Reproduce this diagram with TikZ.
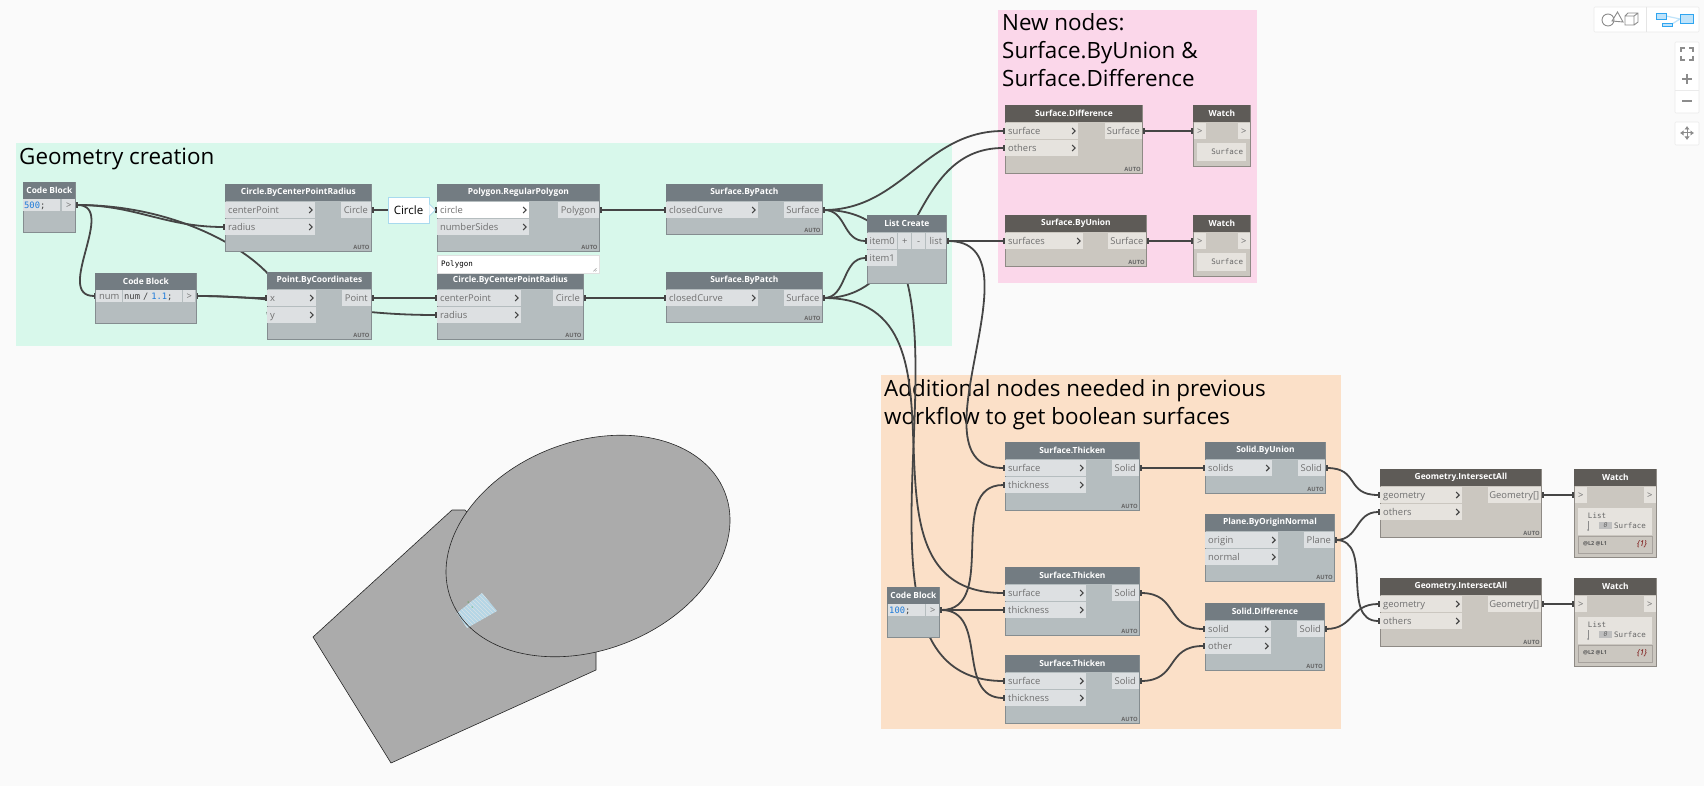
\documentclass[tikz,border=0pt]{standalone}
\usepackage{fontspec}
\setmainfont{Open Sans}
\setmonofont{DejaVu Sans Mono}
\usetikzlibrary{arrows.meta}
\pgfdeclarelayer{groups}
\pgfdeclarelayer{wires}
\pgfsetlayers{groups,wires,main}
\definecolor{pagefill}{HTML}{FAFAFA}
\definecolor{greenfill}{HTML}{D8F8EB}
\definecolor{pinkfill}{HTML}{FBD7EA}
\definecolor{orangefill}{HTML}{FBE0C8}
\definecolor{blockfill}{HTML}{B5BDBF}
\definecolor{blockline}{HTML}{858D90}
\definecolor{headfill}{HTML}{737C82}
\definecolor{portfill}{HTML}{DDE0E2}
\definecolor{tanfill}{HTML}{CBC7C0}
\definecolor{tanline}{HTML}{8E8A85}
\definecolor{tanhead}{HTML}{5E5B57}
\definecolor{tanport}{HTML}{E6E3DE}
\definecolor{wirecol}{HTML}{454545}
\definecolor{portink}{HTML}{707070}
\definecolor{numblue}{HTML}{1E7BD9}
\definecolor{noteline}{HTML}{A8DAEE}
\definecolor{shapefill}{HTML}{ABABAB}
\definecolor{patchfill}{HTML}{B5D6E6}
\definecolor{iconblue}{HTML}{2FA5F0}
\definecolor{iconpale}{HTML}{BFE3FA}
\definecolor{icongray}{HTML}{8C8C8C}
\begin{document}
\begin{tikzpicture}[
    x=1pt, y=-1pt,
    block/.style 2 args={draw=blockline, fill=blockfill, line width=0.8pt, minimum width=#1pt, minimum height=#2pt, anchor=north west, inner sep=0pt},
    tanblock/.style 2 args={block={#1}{#2}, draw=tanline, fill=tanfill},
    hdr/.style={fill=headfill, text=white, font=\fontsize{8.4}{10}\selectfont\bfseries, minimum width=#1pt, minimum height=17pt, anchor=north, inner sep=0pt},
    tanhdr/.style={hdr=#1, fill=tanhead},
    cell/.style={font=\fontsize{9.4}{11}\selectfont, text=portink, minimum height=16pt, inner ysep=0pt, text height=8pt, text depth=1pt},
    inport/.style={cell, fill=portfill, anchor=west, inner xsep=3pt, text width=#1pt, align=left, path picture={\draw[wirecol, line width=1.1pt] ([shift={(-6,-3)}]path picture bounding box.east) -- ++(3,3) -- ++(-3,3);}},
    taninport/.style={inport=#1, fill=tanport},
    outport/.style={cell, fill=portfill, anchor=east, inner xsep=0pt, minimum width=#1pt},
    tanoutport/.style={outport=#1, fill=tanport},
    btn/.style={cell, fill=portfill, anchor=west, inner xsep=0pt, minimum width=#1pt, minimum height=12pt, text height=7pt, text depth=0.5pt},
    codecell/.style={cell, fill=portfill, anchor=west, inner xsep=1pt, text width=#1pt, align=left, minimum height=12pt, text height=7pt, text depth=0.5pt, font=\fontsize{8.8}{11}\selectfont\ttfamily, text=black!75},
    autotag/.style={font=\fontsize{5.8}{6}\selectfont\bfseries, text=black!60, anchor=south east, inner sep=2pt},
    grouptitle/.style={font=\fontsize{22.4}{28.3}\selectfont, anchor=north west, inner sep=0pt, align=left},
    wire/.style={draw=wirecol, line width=1.8pt, {Rectangle[length=2.5pt,width=6pt]}-{Rectangle[length=2.5pt,width=6pt]}},
    monotext/.style={font=\fontsize{7.5}{9}\selectfont\ttfamily, text=black!60, inner sep=0pt},
    watchvalue/.style={monotext, fill=tanport, minimum height=18pt, inner xsep=3pt, text width=43pt, align=right},
    panel/.style={fill=white, draw=black!8, line width=0.6pt, rounded corners=1pt},
    icon/.style={draw=icongray, line width=0.9pt},
  ]
    \useasboundingbox (0,0) rectangle (1704,786);

    % groups
    \begin{pgfonlayer}{groups}
    \fill[pagefill] (0,0) rectangle (1704,786);
    \fill[greenfill]  (16,143) rectangle (952,346);
    \fill[pinkfill]   (998,10) rectangle (1257,283);
    \fill[orangefill] (881,375) rectangle (1341,729);
    \node[grouptitle] (titleA) at (19,148) {Geometry creation};
    \node[grouptitle] (titleB) at (1002,13) {New nodes:\\Surface.ByUnion \&\\Surface.Difference};
    \node[grouptitle] (titleC) at (884,379) {Additional nodes needed in previous\\workflow to get boolean surfaces};
    \end{pgfonlayer}

    % geometry preview
    \fill[shapefill, draw=black!85, line width=0.6pt] (313,637) -- (452,510) -- (465,510) -- (596,652) -- (596,670) -- (391,763) -- cycle;
    \fill[shapefill, rotate around={21.5:(588,546)}] (588,546) ellipse [x radius=147, y radius=104];
    \begin{scope}
      \clip (457,613) -- (482,593) -- (497,611) -- (467,628) -- cycle;
      \fill[patchfill] (450,590) rectangle (500,630);
      \foreach \i in {-40,-36,...,44} \draw[white!70!patchfill!85!gray, line width=0.5pt] (450+\i,590) -- (490+\i,630);
    \end{scope}
    \fill[green!60!black] (468,602) circle (0.5) (472,607) circle (0.5);
    \draw[black!85, line width=0.6pt, rotate around={21.5:(588,546)}] (588,546) ellipse [x radius=147, y radius=104];

    % first row
    \node[block={52}{50}] (code1) at (23,182) {};
    \node[hdr=52] (code1h) at (code1.north) {Code Block};
    \node[codecell=35] (code1v) at (23,205) {\textcolor{numblue}{500};};
    \node[btn=13] (code1o) at (62,205) {>};

    \node[block={146}{67}] (circA) at (225,184) {};
    \node[hdr=146] (circAh) at (circA.north) {Circle.ByCenterPointRadius};
    \node[inport=84] (circAc) at (225,210) {centerPoint};
    \node[inport=84] (circAr) at (225,227) {radius};
    \node[outport=30] (circAo) at (371,210) {Circle};
    \node[autotag] (circAt) at (circA.south east) {AUTO};

    \node[block={162}{67}] (polyA) at (437,184) {};
    \node[hdr=162] (polyAh) at (polyA.north) {Polygon.RegularPolygon};
    \node[inport=86, fill=white] (polyAc) at (437,210) {circle};
    \node[inport=86] (polyAn) at (437,227) {numberSides};
    \node[outport=41] (polyAo) at (599,210) {Polygon};
    \node[autotag] (polyAt) at (polyA.south east) {AUTO};

    \node[block={156}{50}] (patchA) at (666,184) {};
    \node[hdr=156] (patchAh) at (patchA.north) {Surface.ByPatch};
    \node[inport=86] (patchAc) at (666,210) {closedCurve};
    \node[outport=38] (patchAo) at (822,210) {Surface};
    \node[autotag] (patchAt) at (patchA.south east) {AUTO};

    \node[block={79}{68}] (listA) at (867,215) {};
    \node[hdr=79] (listAh) at (listA.north) {List Create};
    \node[btn=30, minimum height=16pt] (listAa) at (867,241) {item0};
    \node[btn=30, minimum height=16pt] (listAb) at (867,258) {item1};
    \node[btn=13, minimum height=16pt] (listAp) at (898,241) {+};
    \node[btn=13, minimum height=16pt] (listAm) at (912,241) {-};
    \node[outport=20] (listAo) at (946,241) {list};

    % second row
    \node[block={101}{50}] (code2) at (95,273) {};
    \node[hdr=101] (code2h) at (code2.north) {Code Block};
    \node[btn=26] (code2n) at (96,296) {num};
    \node[codecell=57] (code2v) at (123,296) {num / \textcolor{numblue}{1.1};};
    \node[btn=12] (code2o) at (183,296) {>};

    \node[block={104}{67}] (pointA) at (267,272) {};
    \node[hdr=104] (pointAh) at (pointA.north) {Point.ByCoordinates};
    \node[inport=43] (pointAx) at (267,298) {x};
    \node[inport=43] (pointAy) at (267,315) {y};
    \node[outport=29] (pointAo) at (371,298) {Point};
    \node[autotag] (pointAt) at (pointA.south east) {AUTO};

    \node[block={146}{67}] (circB) at (437,272) {};
    \node[hdr=146] (circBh) at (circB.north) {Circle.ByCenterPointRadius};
    \node[inport=78] (circBc) at (437,298) {centerPoint};
    \node[inport=78] (circBr) at (437,315) {radius};
    \node[outport=30] (circBo) at (583,298) {Circle};
    \node[autotag] (circBt) at (circB.south east) {AUTO};

    \node[block={156}{50}] (patchB) at (666,272) {};
    \node[hdr=156] (patchBh) at (patchB.north) {Surface.ByPatch};
    \node[inport=86] (patchBc) at (666,298) {closedCurve};
    \node[outport=38] (patchBo) at (822,298) {Surface};
    \node[autotag] (patchBt) at (patchB.south east) {AUTO};

    % notes on the first nodes
    \node[draw=noteline, fill=white, line width=0.8pt, minimum width=41pt, minimum height=26pt, inner sep=0pt, font=\fontsize{11.5}{13}\selectfont] (note) at (408.5,210) {Circle};
    \draw[noteline, fill=white, line width=0.8pt] ([yshift=6pt]note.east) -- ++(6,6) -- ++(-6,6);
    \node[fill=white, draw=black!12, minimum width=162pt, minimum height=18pt, anchor=north west, inner sep=4pt, text width=154pt, align=left, font=\fontsize{7.5}{9}\selectfont\ttfamily] (polyAp) at (437,255) {Polygon};
    \draw[black!40, line width=0.5pt] ([shift={(-3,-5)}]polyAp.south east) -- ++(-3,3) ([shift={(-3,-3)}]polyAp.south east) -- ++(-1,1);

    % new nodes
    \node[tanblock={137}{68}] (diffA) at (1005,105) {};
    \node[tanhdr=137] (diffAh) at (diffA.north) {Surface.Difference};
    \node[taninport=67] (diffAs) at (1005,131) {surface};
    \node[taninport=67] (diffAt) at (1005,148) {others};
    \node[tanoutport=37] (diffAo) at (1142,131) {Surface};
    \node[autotag] (diffAa) at (diffA.south east) {AUTO};

    \node[tanblock={141}{51}] (unionA) at (1005,215) {};
    \node[tanhdr=141] (unionAh) at (unionA.north) {Surface.ByUnion};
    \node[taninport=72] (unionAs) at (1005,241) {surfaces};
    \node[tanoutport=38] (unionAo) at (1146,241) {Surface};
    \node[autotag] (unionAa) at (unionA.south east) {AUTO};

    \node[tanblock={57}{61}] (watchA) at (1193,105) {};
    \node[tanhdr=57] (watchAh) at (watchA.north) {Watch};
    \node[btn=12, fill=tanport, minimum height=16pt] (watchAi) at (1193.5,131) {>};
    \node[btn=12, fill=tanport, minimum height=16pt] (watchAo) at (1237.5,131) {>};
    \node[watchvalue] (watchAv) at (1221.5,152) {Surface};

    \node[tanblock={57}{61}] (watchB) at (1193,215) {};
    \node[tanhdr=57] (watchBh) at (watchB.north) {Watch};
    \node[btn=12, fill=tanport, minimum height=16pt] (watchBi) at (1193.5,241) {>};
    \node[btn=12, fill=tanport, minimum height=16pt] (watchBo) at (1237.5,241) {>};
    \node[watchvalue] (watchBv) at (1221.5,262) {Surface};

    % additional nodes
    \node[block={52}{50}] (code3) at (887,587) {};
    \node[hdr=52] (code3h) at (code3.north) {Code Block};
    \node[codecell=35] (code3v) at (888,610) {\textcolor{numblue}{100};};
    \node[btn=13] (code3o) at (926,610) {>};

    \node[block={134}{68}] (thickA) at (1005,442) {};
    \node[hdr=134] (thickAh) at (thickA.north) {Surface.Thicken};
    \node[inport=75] (thickAs) at (1005,468) {surface};
    \node[inport=75] (thickAt) at (1005,485) {thickness};
    \node[outport=27] (thickAo) at (1139,468) {Solid};
    \node[autotag] (thickAa) at (thickA.south east) {AUTO};

    \node[block={134}{68}] (thickB) at (1005,567) {};
    \node[hdr=134] (thickBh) at (thickB.north) {Surface.Thicken};
    \node[inport=75] (thickBs) at (1005,593) {surface};
    \node[inport=75] (thickBt) at (1005,610) {thickness};
    \node[outport=27] (thickBo) at (1139,593) {Solid};
    \node[autotag] (thickBa) at (thickB.south east) {AUTO};

    \node[block={134}{68}] (thickC) at (1005,655) {};
    \node[hdr=134] (thickCh) at (thickC.north) {Surface.Thicken};
    \node[inport=75] (thickCs) at (1005,681) {surface};
    \node[inport=75] (thickCt) at (1005,698) {thickness};
    \node[outport=27] (thickCo) at (1139,681) {Solid};
    \node[autotag] (thickCa) at (thickC.south east) {AUTO};

    \node[block={120}{51}] (solidU) at (1205,442) {};
    \node[hdr=120] (solidUh) at (solidU.north) {Solid.ByUnion};
    \node[inport=61] (solidUs) at (1205,468) {solids};
    \node[outport=27] (solidUo) at (1325,468) {Solid};
    \node[autotag] (solidUa) at (solidU.south east) {AUTO};

    \node[block={129}{67}] (planeA) at (1205,514) {};
    \node[hdr=129] (planeAh) at (planeA.north) {Plane.ByOriginNormal};
    \node[inport=67] (planeAx) at (1205,540) {origin};
    \node[inport=67] (planeAn) at (1205,557) {normal};
    \node[outport=30] (planeAo) at (1334,540) {Plane};
    \node[autotag] (planeAa) at (planeA.south east) {AUTO};

    \node[block={119}{67}] (solidD) at (1205,603) {};
    \node[hdr=119] (solidDh) at (solidD.north) {Solid.Difference};
    \node[inport=60] (solidDs) at (1205,629) {solid};
    \node[inport=60] (solidDt) at (1205,646) {other};
    \node[outport=27] (solidDo) at (1324,629) {Solid};
    \node[autotag] (solidDa) at (solidD.south east) {AUTO};

    \node[tanblock={161}{68}] (isectA) at (1380,469) {};
    \node[tanhdr=161] (isectAh) at (isectA.north) {Geometry.IntersectAll};
    \node[taninport=76] (isectAg) at (1380,495) {geometry};
    \node[taninport=76] (isectAt) at (1380,512) {others};
    \node[tanoutport=53] (isectAo) at (1541,495) {Geometry[]};
    \node[autotag] (isectAa) at (isectA.south east) {AUTO};

    \node[tanblock={161}{68}] (isectB) at (1380,578) {};
    \node[tanhdr=161] (isectBh) at (isectB.north) {Geometry.IntersectAll};
    \node[taninport=76] (isectBg) at (1380,604) {geometry};
    \node[taninport=76] (isectBt) at (1380,621) {others};
    \node[tanoutport=53] (isectBo) at (1541,604) {Geometry[]};
    \node[autotag] (isectBa) at (isectB.south east) {AUTO};

    \node[tanblock={82}{88}] (watchC) at (1574,469) {};
    \node[tanhdr=82] (watchCh) at (watchC.north) {Watch};
    \node[btn=12, fill=tanport, minimum height=16pt] (watchCi) at (1574.5,495) {>};
    \node[btn=12, fill=tanport, minimum height=16pt] (watchCo) at (1643.5,495) {>};
    \fill[tanport] (1578,508) rectangle (1652,535);
    \draw[tanline!60!tanfill, line width=0.5pt] (1578,536) rectangle (1652,553);
    \node[monotext] (watchCl) at (1597,516) {List};
    \node[monotext, fill=black!25, minimum width=13pt, minimum height=7pt, font=\fontsize{6.5}{7}\selectfont\ttfamily\itshape] (watchCn) at (1605.5,525.5) {0};
    \node[monotext] (watchCv) at (1630,525.5) {Surface};
    \draw[black!45, line width=0.5pt] (1588,521) -- (1588,530);
    \fill[black!45] (1588,530) circle (1);
    \node[monotext, font=\fontsize{5.5}{6}\selectfont\bfseries, text=black!65] (watchCx) at (1595,544) {@L2 @L1};
    \node[monotext, text=red!45!black, font=\fontsize{8}{9}\selectfont\itshape] (watchCy) at (1642,544) {\{1\}};

    \node[tanblock={82}{88}] (watchD) at (1574,578) {};
    \node[tanhdr=82] (watchDh) at (watchD.north) {Watch};
    \node[btn=12, fill=tanport, minimum height=16pt] (watchDi) at (1574.5,604) {>};
    \node[btn=12, fill=tanport, minimum height=16pt] (watchDo) at (1643.5,604) {>};
    \fill[tanport] (1578,617) rectangle (1652,644);
    \draw[tanline!60!tanfill, line width=0.5pt] (1578,645) rectangle (1652,662);
    \node[monotext] (watchDl) at (1597,625) {List};
    \node[monotext, fill=black!25, minimum width=13pt, minimum height=7pt, font=\fontsize{6.5}{7}\selectfont\ttfamily\itshape] (watchDn) at (1605.5,634.5) {0};
    \node[monotext] (watchDv) at (1630,634.5) {Surface};
    \draw[black!45, line width=0.5pt] (1588,630) -- (1588,639);
    \fill[black!45] (1588,639) circle (1);
    \node[monotext, font=\fontsize{5.5}{6}\selectfont\bfseries, text=black!65] (watchDx) at (1595,653) {@L2 @L1};
    \node[monotext, text=red!45!black, font=\fontsize{8}{9}\selectfont\itshape] (watchDy) at (1642,653) {\{1\}};

    % wires
    \begin{pgfonlayer}{wires}
    \draw[wire] (code1o.east) .. controls +(60,0) and +(-60,0) .. (circAr.west);
    \draw[wire] (code1o.east) .. controls +(43,0) and +(-43,0) .. (code2n.west);
    \draw[wire] (code1o.east) .. controls +(150,0) and +(53,-10) .. (pointAy.west);
    \draw[wire] (code2o.east) .. controls +(30,0) and +(-30,0) .. (pointAx.west);
    \draw[wire] (code2o.east) .. controls +(100,0) and +(-100,0) .. (circBr.west);
    \draw[wire] (pointAo.east) -- (circBc.west);
    \draw[wire] (circAo.east) -- (polyAc.west);
    \draw[wire] (polyAo.east) -- (patchAc.west);
    \draw[wire] (circBo.east) -- (patchBc.west);
    \draw[wire] (patchAo.east) .. controls +(25,0) and +(-25,0) .. (listAa.west);
    \draw[wire] (patchBo.east) .. controls +(25,0) and +(-25,0) .. (listAb.west);
    \draw[wire] (patchAo.east) .. controls +(80,0) and +(-80,0) .. (diffAs.west);
    \draw[wire] (patchBo.east) .. controls +(100,0) and +(-100,0) .. (diffAt.west);
    \draw[wire] (patchAo.east) .. controls +(200,0) and +(-200,0) .. (thickCs.west);
    \draw[wire] (patchBo.east) .. controls +(170,0) and +(-170,0) .. (thickBs.west);
    \draw[wire] (listAo.east) -- (unionAs.west);
    \draw[wire] (listAo.east) .. controls +(100,0) and +(-100,0) .. (thickAs.west);
    \draw[wire] (diffAo.east) -- (watchAi.west);
    \draw[wire] (unionAo.east) -- (watchBi.west);
    \draw[wire] (code3o.east) .. controls +(60,0) and +(-60,0) .. (thickAt.west);
    \draw[wire] (code3o.east) -- (thickBt.west);
    \draw[wire] (code3o.east) .. controls +(50,0) and +(-50,0) .. (thickCt.west);
    \draw[wire] (thickAo.east) -- (solidUs.west);
    \draw[wire] (thickBo.east) .. controls +(40,0) and +(-40,0) .. (solidDs.west);
    \draw[wire] (thickCo.east) .. controls +(40,0) and +(-40,0) .. (solidDt.west);
    \draw[wire] (solidUo.east) .. controls +(35,0) and +(-35,0) .. (isectAg.west);
    \draw[wire] (planeAo.east) .. controls +(25,0) and +(-25,0) .. (isectAt.west);
    \draw[wire] (planeAo.east) .. controls +(40,0) and +(-40,0) .. (isectBt.west);
    \draw[wire] (solidDo.east) .. controls +(30,0) and +(-30,0) .. (isectBg.west);
    \draw[wire] (isectAo.east) -- (watchCi.west);
    \draw[wire] (isectBo.east) -- (watchDi.west);
    \end{pgfonlayer}

    % view controls
    \fill[panel] (1594,7) rectangle (1699,32);
    \draw[black!10, line width=0.6pt] (1646,7) -- (1646,32);
    \draw[icon] (1608,20) circle (6);
    \draw[icon] (1612,21) -- (1617.5,12) -- (1623,22) -- cycle;
    \draw[icon] (1625,16) rectangle (1634,25) (1625,16) -- (1628,13) -- (1638,13) -- (1638,22) -- (1634,25) (1634,16) -- (1638,13);
    \draw[iconpale, line width=1.2pt] (1666,16) -- (1680,19) (1672,24) -- (1680,19);
    \draw[iconblue, fill=iconpale, line width=0.8pt] (1656,13) rectangle (1666,19);
    \draw[iconblue, fill=iconpale, line width=0.8pt] (1662,23) rectangle (1672,26);
    \draw[iconblue, fill=iconpale, line width=0.8pt] (1680,14) rectangle (1693,23);
    \fill[panel] (1675,42) rectangle (1699,113);
    \draw[black!8, line width=0.6pt] (1675,90) -- (1699,90);
    \draw[icon, line width=1.1pt] (1681,52) -- (1681,48) -- (1685,48) (1689,48) -- (1693,48) -- (1693,52) (1693,56) -- (1693,60) -- (1689,60) (1685,60) -- (1681,60) -- (1681,56);
    \draw[icon, line width=1.2pt] (1682,79) -- (1692,79) (1687,74) -- (1687,84);
    \draw[icon, line width=1.2pt] (1682,101) -- (1692,101);
    \fill[panel] (1675,122) rectangle (1699,145);
    \draw[icon, line width=1pt, {Latex[length=3.5pt,width=5.5pt]}-{Latex[length=3.5pt,width=5.5pt]}] (1680,133) -- (1694,133);
    \draw[icon, line width=1pt, {Latex[length=3.5pt,width=5.5pt]}-{Latex[length=3.5pt,width=5.5pt]}] (1687,126) -- (1687,140);
  \end{tikzpicture}
\end{document}
